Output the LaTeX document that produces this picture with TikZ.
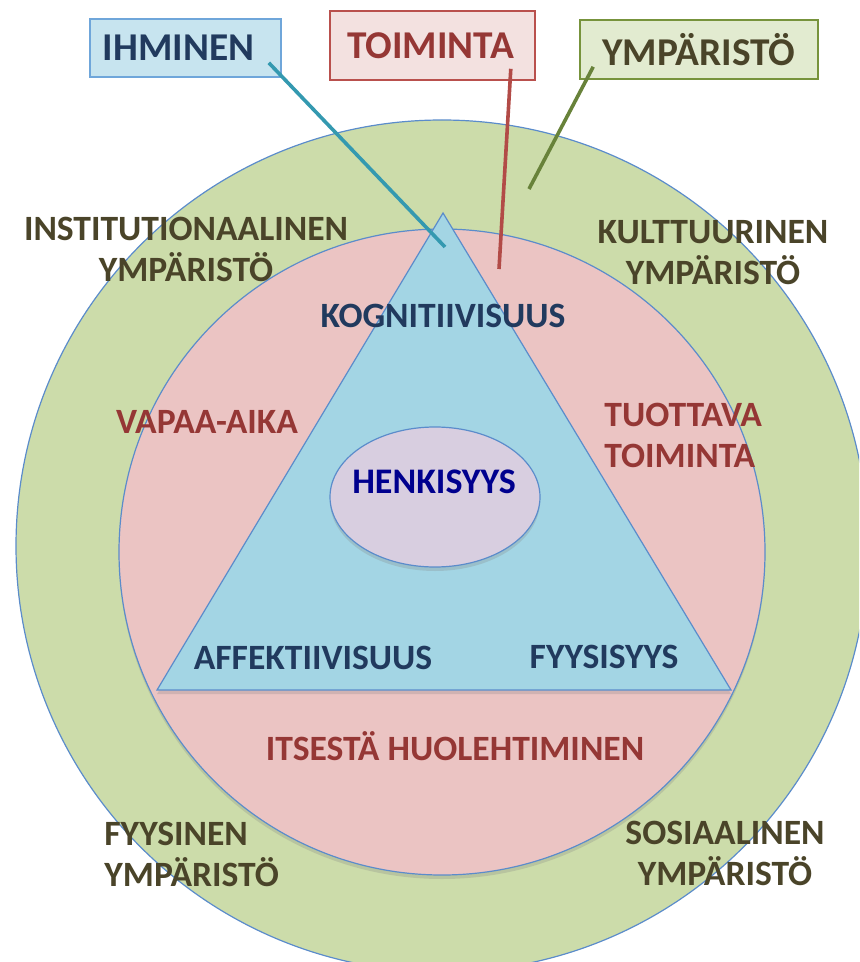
\documentclass[tikz,border=0pt]{standalone}
\usepackage{fontspec}
\setmainfont{Carlito}
\usetikzlibrary{shadows, calc, shapes.geometric}

\definecolor{envfill}{HTML}{CCDCAA}
\definecolor{actfill}{HTML}{EBC4C3}
\definecolor{personfill}{HTML}{A3D5E4}
\definecolor{selffill}{HTML}{D8CEE0}
\definecolor{edgeblue}{HTML}{5B8CCB}
\definecolor{envtext}{HTML}{4A4429}
\definecolor{acttext}{HTML}{953735}
\definecolor{persontext}{HTML}{213A5E}
\definecolor{selftext}{HTML}{00008E}
\definecolor{ihmfill}{HTML}{C7E4EF}
\definecolor{ihmdraw}{HTML}{6FA6DA}
\definecolor{toifill}{HTML}{F3E1E0}
\definecolor{toidraw}{HTML}{B9504D}
\definecolor{ympfill}{HTML}{E2EBD0}
\definecolor{ympdraw}{HTML}{77933C}
\definecolor{ihmline}{HTML}{3499B0}
\definecolor{toiline}{HTML}{B24B47}
\definecolor{ympline}{HTML}{68823A}

\begin{document}
\begin{tikzpicture}[
    x=0.5pt, y=-0.5pt,
    shape edge/.style = {draw=edgeblue, line width=0.6pt},
    soft shadow/.style = {drop shadow={opacity=0.25, shadow xshift=0pt, shadow yshift=-2pt}},
    label text/.style = {font=\fontsize{17.8}{20.5}\selectfont\bfseries, align=center, inner sep=0pt},
    env/.style = {label text, text=envtext},
    act/.style = {label text, text=acttext},
    person/.style = {label text, text=persontext},
    keybox/.style = {rectangle, line width=0.8pt, inner sep=0pt, font=\fontsize{19.7}{22}\selectfont\bfseries},
    pointer/.style = {line width=1.8pt}
]
    \useasboundingbox (0,0) rectangle (859,962);
    \clip (0,0) rectangle (859,962);

    % circles and triangle
    \draw [shape edge, fill=envfill] (442,546) circle [radius=213pt];
    \draw [shape edge, fill=actfill, soft shadow] (442,552) circle [radius=161.5pt];
    \coordinate (apex) at (443,213);
    \coordinate (base-l) at (157,690);
    \coordinate (base-r) at (731,690);
    \draw [shape edge, fill=personfill, soft shadow] (apex) -- (base-l) -- (base-r) -- cycle;
    \node [ellipse, shape edge, fill=selffill, soft shadow, minimum width=105pt, minimum height=70pt, inner sep=0pt] (henki) at (435,497) {};
    \node [label text, text=selftext, font=\fontsize{18}{20}\selectfont\bfseries] (henki-txt) at (434,482) {HENKISYYS};

    % key boxes
    \node [keybox, draw=ihmdraw, fill=ihmfill, text=persontext, minimum width=95.5pt, minimum height=29pt] (ihminen) at (185.5,48) {IHMINEN\hspace*{7pt}};
    \node [keybox, draw=toidraw, fill=toifill, text=acttext, minimum width=102.5pt, minimum height=34.5pt] (toiminta) at (432.5,45.5) {TOIMINTA\hspace*{2pt}};
    \node [keybox, draw=ympdraw, fill=ympfill, text=envtext, minimum width=119pt, minimum height=29.5pt] (ymparisto) at (699,49.5) {YMPÄRISTÖ};

    % pointers
    \coordinate (ihm-end) at (445,247);
    \coordinate (toi-end) at (499,269);
    \coordinate (ymp-end) at (529,189);
    \draw [pointer, ihmline] ($(ihminen.south east)+(-13,-15)$) -- (ihm-end);
    \draw [pointer, toiline] ($(toiminta.south east)+(-25,-12)$) -- (toi-end);
    \draw [pointer, ympline] ($(ymparisto.south west)+(14,-13)$) -- (ymp-end);

    % environment labels
    \node [env] (inst) at (186,249.5) {INSTITUTIONAALINEN\\YMPÄRISTÖ};
    \node [env] (kult) at (713,252.5) {KULTTUURINEN\\YMPÄRISTÖ};
    \node [env, align=left, anchor=west] (fyys) at (104,854) {FYYSINEN\\YMPÄRISTÖ};
    \node [env] (sos) at (725,853) {SOSIAALINEN\\YMPÄRISTÖ};

    % activity labels
    \node [act] (vapaa) at (207,422) {VAPAA-AIKA};
    \node [act, align=left, anchor=west] (tuott) at (604,435) {TUOTTAVA\\TOIMINTA};
    \node [act] (itse) at (455,746) {ITSESTÄ HUOLEHTIMINEN};

    % person labels
    \node [person] (kogn) at (443,316) {KOGNITIIVISUUS};
    \node [person] (affe) at (313,658) {AFFEKTIIVISUUS};
    \node [person] (fyysis) at (604,657) {FYYSISYYS};
\end{tikzpicture}
\end{document}
